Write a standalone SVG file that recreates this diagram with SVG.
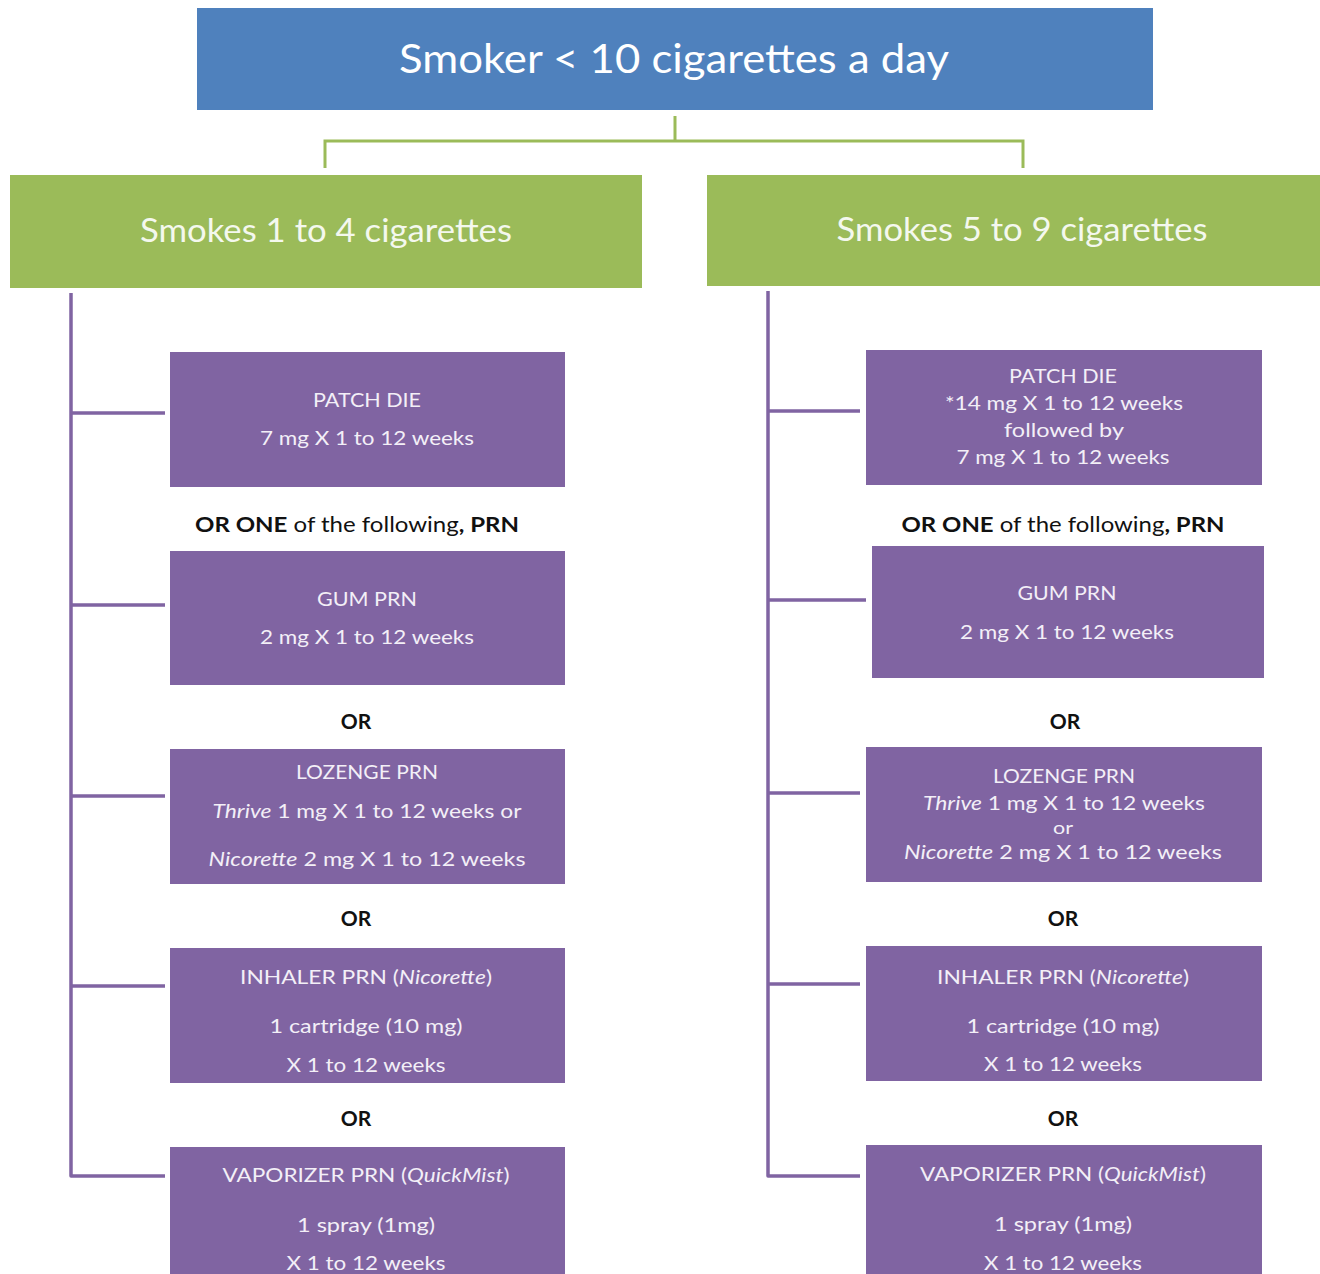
<svg xmlns="http://www.w3.org/2000/svg" width="1320" height="1274" viewBox="0 0 1320 1274">
<style>
.blue{fill:#4F81BD}
.green{fill:#9BBB59}
.purple{fill:#8064A2}
.gl{stroke:#9BBB59;stroke-width:3;fill:none}
.pl{stroke:#8064A2;stroke-width:3.5;fill:none;stroke-linejoin:round}
text{font-family:Lato,"Open Sans","DejaVu Sans",sans-serif;text-anchor:middle}
.t1{font-size:41px;fill:#FFFFFF}
.t2{font-size:32px;fill:#F4F8EE}
.tp{font-size:20px;fill:#F3EFF7}
.ts{font-size:18px;fill:#F3EFF7}
.tk{font-size:21px;fill:#111111}
.b{font-weight:bold}
.i{font-style:italic}
</style>
<rect width="1320" height="1274" fill="#FFFFFF"/>
<g id="connectors">
<path class="gl" d="M675 116V141M325 168V141H1023V168"/>
<path class="pl" d="M71 293V1176H165M71 413H165M71 605H165M71 796H165M71 986H165"/>
<path class="pl" d="M768 291V1176H860M768 411H860M768 600H866M768 793H860M768 984H860"/>
</g>
<g id="root">
<rect class="blue" x="197" y="8" width="956" height="102"/>
<text class="t1" x="674" y="73" textLength="550" lengthAdjust="spacingAndGlyphs">Smoker &lt; 10 cigarettes a day</text>
</g>
<g id="left-group">
<rect class="green" x="10" y="175" width="632" height="113"/>
<text class="t2" x="326" y="242" textLength="372" lengthAdjust="spacingAndGlyphs">Smokes 1 to 4 cigarettes</text>
</g>
<g id="right-group">
<rect class="green" x="707" y="175" width="613" height="111"/>
<text class="t2" x="1022" y="241" textLength="371" lengthAdjust="spacingAndGlyphs">Smokes 5 to 9 cigarettes</text>
</g>
<g id="l-patch">
<rect class="purple" x="170" y="352" width="395" height="135"/>
<text class="tp" x="367" y="407" textLength="108" lengthAdjust="spacingAndGlyphs">PATCH DIE</text>
<text class="tp" x="367" y="445" textLength="214" lengthAdjust="spacingAndGlyphs">7 mg X 1 to 12 weeks</text>
</g>
<g id="l-oneof">
<text class="tk" x="357" y="532" textLength="324" lengthAdjust="spacingAndGlyphs"><tspan class="b">OR ONE</tspan> of the following<tspan class="b">, PRN</tspan></text>
</g>
<g id="l-gum">
<rect class="purple" x="170" y="551" width="395" height="134"/>
<text class="tp" x="367" y="606" textLength="100" lengthAdjust="spacingAndGlyphs">GUM PRN</text>
<text class="tp" x="367" y="644" textLength="214" lengthAdjust="spacingAndGlyphs">2 mg X 1 to 12 weeks</text>
</g>
<text class="tk b" x="356" y="729">OR</text>
<g id="l-lozenge">
<rect class="purple" x="170" y="749" width="395" height="135"/>
<text class="tp" x="367" y="779" textLength="142" lengthAdjust="spacingAndGlyphs">LOZENGE PRN</text>
<text class="tp" x="367" y="818" textLength="309" lengthAdjust="spacingAndGlyphs"><tspan class="i">Thrive</tspan> 1 mg X 1 to 12 weeks or</text>
<text class="tp" x="367" y="866" textLength="317" lengthAdjust="spacingAndGlyphs"><tspan class="i">Nicorette</tspan>  2 mg X 1 to 12 weeks</text>
</g>
<text class="tk b" x="356" y="926">OR</text>
<g id="l-inhaler">
<rect class="purple" x="170" y="948" width="395" height="135"/>
<text class="tp" x="366" y="984" textLength="252" lengthAdjust="spacingAndGlyphs">INHALER PRN (<tspan class="i">Nicorette</tspan>)</text>
<text class="tp" x="366" y="1033" textLength="193" lengthAdjust="spacingAndGlyphs">1 cartridge (10 mg)</text>
<text class="tp" x="366" y="1072" textLength="159" lengthAdjust="spacingAndGlyphs">X 1 to 12 weeks</text>
</g>
<text class="tk b" x="356" y="1126">OR</text>
<g id="l-vaporizer">
<rect class="purple" x="170" y="1147" width="395" height="130"/>
<text class="tp" x="366" y="1182" textLength="287" lengthAdjust="spacingAndGlyphs">VAPORIZER PRN (<tspan class="i">QuickMist</tspan>)</text>
<text class="tp" x="366" y="1232" textLength="138" lengthAdjust="spacingAndGlyphs">1 spray (1mg)</text>
<text class="tp" x="366" y="1270" textLength="159" lengthAdjust="spacingAndGlyphs">X 1 to 12 weeks</text>
</g>
<g id="r-patch">
<rect class="purple" x="866" y="350" width="396" height="135"/>
<text class="tp" x="1063" y="383" textLength="108" lengthAdjust="spacingAndGlyphs">PATCH DIE</text>
<text class="tp" x="1064" y="410" textLength="238" lengthAdjust="spacingAndGlyphs">*14 mg X 1 to 12 weeks</text>
<text class="tp" x="1064" y="437" textLength="120" lengthAdjust="spacingAndGlyphs">followed by</text>
<text class="tp" x="1063" y="464" textLength="213" lengthAdjust="spacingAndGlyphs">7 mg X 1 to 12 weeks</text>
</g>
<g id="r-oneof">
<text class="tk" x="1063" y="532" textLength="323" lengthAdjust="spacingAndGlyphs"><tspan class="b">OR ONE</tspan> of the following<tspan class="b">, PRN</tspan></text>
</g>
<g id="r-gum">
<rect class="purple" x="872" y="546" width="392" height="132"/>
<text class="tp" x="1067" y="600" textLength="99" lengthAdjust="spacingAndGlyphs">GUM PRN</text>
<text class="tp" x="1067" y="639" textLength="214" lengthAdjust="spacingAndGlyphs">2 mg X 1 to 12 weeks</text>
</g>
<text class="tk b" x="1065" y="729">OR</text>
<g id="r-lozenge">
<rect class="purple" x="866" y="747" width="396" height="135"/>
<text class="tp" x="1064" y="783" textLength="142" lengthAdjust="spacingAndGlyphs">LOZENGE PRN</text>
<text class="tp" x="1064" y="810" textLength="282" lengthAdjust="spacingAndGlyphs"><tspan class="i">Thrive</tspan> 1 mg X 1 to 12 weeks</text>
<text class="ts" x="1063" y="834" textLength="20" lengthAdjust="spacingAndGlyphs">or</text>
<text class="tp" x="1063" y="859" textLength="318" lengthAdjust="spacingAndGlyphs"><tspan class="i">Nicorette</tspan>  2 mg X 1 to 12 weeks</text>
</g>
<text class="tk b" x="1063" y="926">OR</text>
<g id="r-inhaler">
<rect class="purple" x="866" y="946" width="396" height="135"/>
<text class="tp" x="1063" y="984" textLength="252" lengthAdjust="spacingAndGlyphs">INHALER PRN (<tspan class="i">Nicorette</tspan>)</text>
<text class="tp" x="1063" y="1033" textLength="193" lengthAdjust="spacingAndGlyphs">1 cartridge (10 mg)</text>
<text class="tp" x="1063" y="1071" textLength="158" lengthAdjust="spacingAndGlyphs">X 1 to 12 weeks</text>
</g>
<text class="tk b" x="1063" y="1126">OR</text>
<g id="r-vaporizer">
<rect class="purple" x="866" y="1145" width="396" height="132"/>
<text class="tp" x="1063" y="1181" textLength="286" lengthAdjust="spacingAndGlyphs">VAPORIZER PRN (<tspan class="i">QuickMist</tspan>)</text>
<text class="tp" x="1063" y="1231" textLength="138" lengthAdjust="spacingAndGlyphs">1 spray (1mg)</text>
<text class="tp" x="1063" y="1270" textLength="158" lengthAdjust="spacingAndGlyphs">X 1 to 12 weeks</text>
</g>
</svg>
